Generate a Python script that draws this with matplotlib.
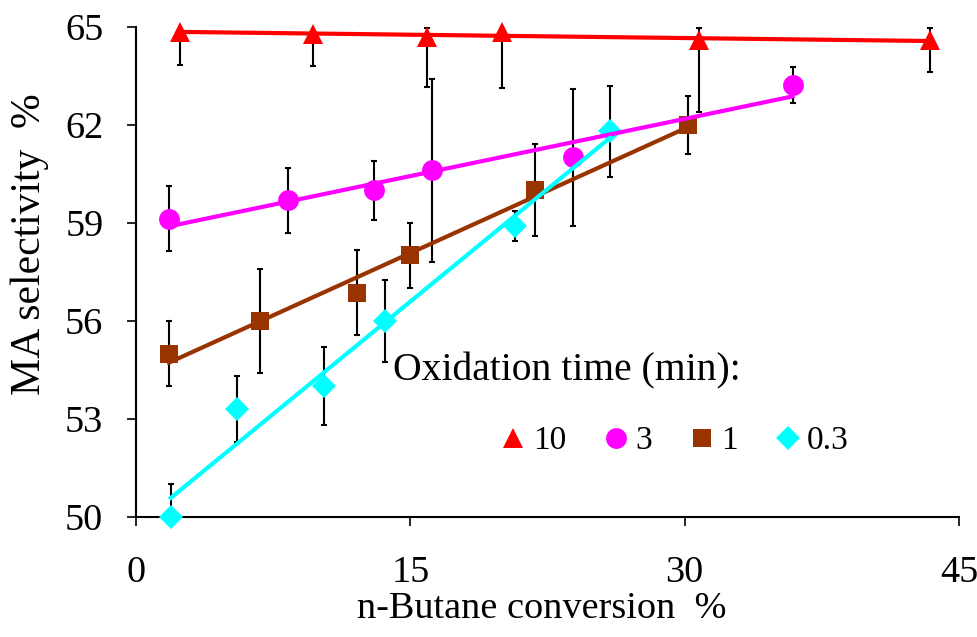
import numpy as np
import matplotlib
matplotlib.use("Agg")
import matplotlib.pyplot as plt
from matplotlib.lines import Line2D

plt.rcParams['font.family'] = ['Liberation Serif', 'DejaVu Serif']

# 10 min
x10 = [2.4, 9.7, 15.9, 20.0, 30.8, 43.4]
y10 = [64.84, 64.79, 64.68, 64.84, 64.58, 64.58]
lo10 = [1.0, 1.0, 1.54, 1.73, 2.2, 0.96]
hi10 = [1.0, 1.0, 0.29, 1.73, 0.39, 0.39]
# 3 min
x3 = [1.8, 8.3, 13.0, 16.2, 23.9, 35.9]
y3 = [59.13, 59.69, 60.0, 60.61, 61.0, 63.21]
e3 = [1.0, 1.0, 0.9, 2.8, 2.1, 0.55]
# 1 min
x1 = [1.8, 6.8, 12.1, 15.0, 21.8, 30.2]
y1 = [55.0, 56.0, 56.86, 58.0, 60.0, 62.0]
e1 = [1.0, 1.6, 1.3, 1.0, 1.4, 0.88]
# 0.3 min
x03 = [1.9, 5.5, 10.3, 13.6, 20.7, 25.9]
y03 = [50.0, 53.3, 54.0, 56.0, 58.9, 61.8]
e03 = [1.0, 1.0, 1.2, 1.25, 0.45, 1.4]

series = [
    ("10", x10, y10, [lo10, hi10], "^", "#FF0000", 14),
    ("3", x3, y3, e3, "o", "#FF00FF", 15),
    ("1", x1, y1, e1, "s", "#993300", 13),
    ("0.3", x03, y03, e03, "D", "#00FFFF", 12),
]

fig = plt.figure(figsize=(9.77, 6.37), dpi=100)
ax = fig.add_axes([0.1392, 0.1884, 0.8424, 0.7697])

handles = []
for name, xs, ys, err, mk, col, ms in series:
    ax.errorbar(xs, ys, yerr=err, fmt="none", ecolor="black",
                elinewidth=1.5, capsize=2.3, capthick=1.5, zorder=2)
    ax.plot(xs, ys, linestyle="none", marker=mk, color=col,
            markersize=ms, markeredgewidth=0, clip_on=False, zorder=3)
    # linear trendline like excel
    k, b = np.polyfit(xs, ys, 1)
    xx = np.array([min(xs), max(xs)])
    ax.plot(xx, k * xx + b, color=col, linewidth=3, zorder=4)
    handles.append(Line2D([], [], linestyle="none", marker=mk, color=col,
                          markersize=ms, markeredgewidth=0, label=name))

ax.set_xlim(0, 45)
ax.set_ylim(50, 65)
ax.set_xticks([0, 15, 30, 45])
ax.set_yticks([50, 53, 56, 59, 62, 65])
for s in ["top", "right"]:
    ax.spines[s].set_visible(False)
for s in ["left", "bottom"]:
    ax.spines[s].set_linewidth(1.5)
ax.tick_params(axis="both", direction="out", length=6.5, width=1.2,
               labelsize=27.5)
ax.tick_params(axis="y", pad=17)
ax.tick_params(axis="x", pad=21)

ax.set_xlabel("n-Butane conversion  %", fontsize=27.5, va="top")
ax.xaxis.set_label_coords(0.4935, -0.152)
ax.set_ylabel("MA selectivity  %", fontsize=30)
ax.yaxis.set_label_coords(-0.106, 0.557)

ax.text(393 / 977, 1 - 380 / 637, "Oxidation time (min):", fontsize=28.5,
        transform=fig.transFigure, ha="left", va="baseline")
ax.legend(handles=handles, ncol=4, frameon=False, fontsize=24,
          loc="center left", bbox_to_anchor=(500 / 977, 1 - 441 / 637),
          bbox_transform=fig.transFigure, borderpad=0, borderaxespad=0,
          handlelength=0.78, handletextpad=0.2, columnspacing=1.1)

fig.savefig("out.png", dpi=100)
